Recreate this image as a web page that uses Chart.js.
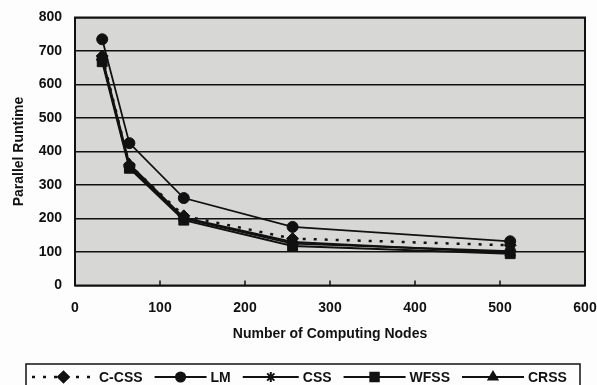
<!DOCTYPE html>
<html>
<head>
<meta charset="utf-8">
<script src="https://cdn.jsdelivr.net/npm/chart.js@4.4.0/dist/chart.umd.min.js"></script>
<style>
  html, body { margin: 0; padding: 0; background: #fff; }
  #wrap { width: 597px; height: 385px; }
</style>
</head>
<body>
<div id="wrap"><canvas id="runtimeChart"></canvas></div>
<script>
// runtime vs. number of nodes for each scheduling scheme
const nodes = [32, 64, 128, 256, 512];
const seriesNames = ['C-CSS', 'LM', 'CSS', 'WFSS', 'CRSS'];
const ccssRuntime = [685, 360, 208, 140, 120];
const lmRuntime = [735, 425, 261, 175, 132];
const cssRuntime = [675, 355, 200, 125, 102];
const wfssRuntime = [668, 350, 195, 118, 95];
const crssRuntime = [680, 362, 202, 130, 98];
const xTickValues = [0, 100, 200, 300, 400, 500, 600];
const yTickValues = [0, 100, 200, 300, 400, 500, 600, 700, 800];

const FONT = '"Liberation Sans", Arial, sans-serif';
const INK = '#111';

const toPoints = (values) => nodes.map((n, i) => ({ x: n, y: values[i] }));

const seriesStyle = (style, radius, extra) => Object.assign({
  borderColor: INK,
  backgroundColor: INK,
  pointBackgroundColor: INK,
  pointBorderColor: INK,
  borderWidth: 2,
  pointStyle: style,
  pointRadius: radius,
  pointHoverRadius: radius,
  pointBorderWidth: 1,
  tension: 0,
  fill: false
}, extra || {});

const datasets = [
  Object.assign({ label: seriesNames[0], data: toPoints(ccssRuntime) },
    seriesStyle('rectRot', 6, { borderDash: [3, 8], borderWidth: 2.5 })),
  Object.assign({ label: seriesNames[1], data: toPoints(lmRuntime) },
    seriesStyle('circle', 5.5, { borderWidth: 1.8 })),
  Object.assign({ label: seriesNames[2], data: toPoints(cssRuntime) },
    seriesStyle('star', 6, { pointBorderWidth: 2 })),
  Object.assign({ label: seriesNames[3], data: toPoints(wfssRuntime) },
    seriesStyle('rect', 7)),
  Object.assign({ label: seriesNames[4], data: toPoints(crssRuntime) },
    seriesStyle('triangle', 6))
];

// gray plot area, black frame and small inward tick marks on the x axis
const plotFrame = {
  id: 'plotFrame',
  beforeDraw(chart) {
    const { ctx, chartArea: a } = chart;
    ctx.save();
    ctx.fillStyle = '#fdfdfd';
    ctx.fillRect(0, 0, chart.width, chart.height);
    ctx.fillStyle = '#d7d7d6';
    ctx.fillRect(a.left, a.top, a.right - a.left, a.bottom - a.top);
    ctx.restore();
  },
  beforeDatasetsDraw(chart) {
    const { ctx, chartArea: a } = chart;
    const xScale = chart.scales.x;
    ctx.save();
    ctx.strokeStyle = INK;
    ctx.lineWidth = 2;
    ctx.strokeRect(a.left, a.top, a.right - a.left, a.bottom - a.top);
    ctx.lineWidth = 1.5;
    xTickValues.slice(1, -1).forEach(v => {
      const px = xScale.getPixelForValue(v);
      ctx.beginPath();
      ctx.moveTo(px, a.bottom);
      ctx.lineTo(px, a.bottom - 5);
      ctx.stroke();
    });
    ctx.restore();
  }
};

// legend in a box along the bottom, each entry shows the line and its marker
const boxedLegend = {
  id: 'boxedLegend',
  afterDraw(chart) {
    const ctx = chart.ctx;
    const y = 377;
    const iconWidths = [63, 52, 56, 62, 62];
    ctx.save();
    ctx.strokeStyle = INK;
    ctx.lineWidth = 1.5;
    ctx.strokeRect(26, 364, 554, 30);
    ctx.font = 'bold 14px ' + FONT;
    ctx.textBaseline = 'middle';
    ctx.textAlign = 'left';
    let x = 32;
    chart.data.datasets.forEach((ds, i) => {
      const w = iconWidths[i];
      ctx.strokeStyle = INK;
      ctx.fillStyle = INK;
      ctx.lineWidth = ds.borderWidth;
      ctx.setLineDash(ds.borderDash || []);
      ctx.beginPath();
      ctx.moveTo(x, y);
      ctx.lineTo(x + w, y);
      ctx.stroke();
      ctx.setLineDash([]);
      Chart.helpers.drawPoint(ctx, {
        pointStyle: ds.pointStyle,
        radius: ds.pointRadius * 0.85,
        borderWidth: ds.pointBorderWidth,
        rotation: 0
      }, x + w / 2, y);
      ctx.fillStyle = INK;
      ctx.fillText(ds.label, x + w + 4, y + 1);
      x += w + 4 + ctx.measureText(ds.label).width + 12;
    });
    ctx.restore();
  }
};

new Chart(document.getElementById('runtimeChart'), {
  type: 'line',
  data: { datasets },
  options: {
    responsive: true,
    maintainAspectRatio: false,
    animation: false,
    layout: { padding: { top: 17.5, right: 12, bottom: 41.5, left: 0 } },
    plugins: {
      legend: { display: false },
      tooltip: { enabled: false }
    },
    scales: {
      x: {
        type: 'linear',
        min: 0,
        max: 600,
        afterBuildTicks: (scale) => { scale.ticks = xTickValues.map(v => ({ value: v })); },
        afterFit: (scale) => {
          scale.height = 58;
          scale.paddingLeft = 0;
          scale.paddingRight = 0;
        },
        grid: { display: false, drawTicks: false },
        border: { display: false },
        ticks: {
          color: INK,
          padding: 14,
          maxRotation: 0,
          font: { family: FONT, size: 14, weight: 'bold' }
        },
        title: {
          display: true,
          text: 'Number of Computing Nodes',
          color: INK,
          padding: { top: 0, bottom: 1 },
          font: { family: FONT, size: 14, weight: 'bold' }
        }
      },
      y: {
        min: 0,
        max: 800,
        afterBuildTicks: (scale) => { scale.ticks = yTickValues.map(v => ({ value: v })); },
        afterFit: (scale) => {
          scale.width = 75;
          scale.paddingTop = 0;
          scale.paddingBottom = 0;
        },
        grid: { color: INK, lineWidth: 1.5, drawTicks: false },
        border: { display: false },
        ticks: {
          color: INK,
          padding: 13,
          font: { family: FONT, size: 14, weight: 'bold' }
        },
        title: {
          display: true,
          text: 'Parallel Runtime',
          color: INK,
          padding: { top: 10.5, bottom: 0 },
          font: { family: FONT, size: 14, weight: 'bold' }
        }
      }
    }
  },
  plugins: [plotFrame, boxedLegend]
});
</script>
</body>
</html>
